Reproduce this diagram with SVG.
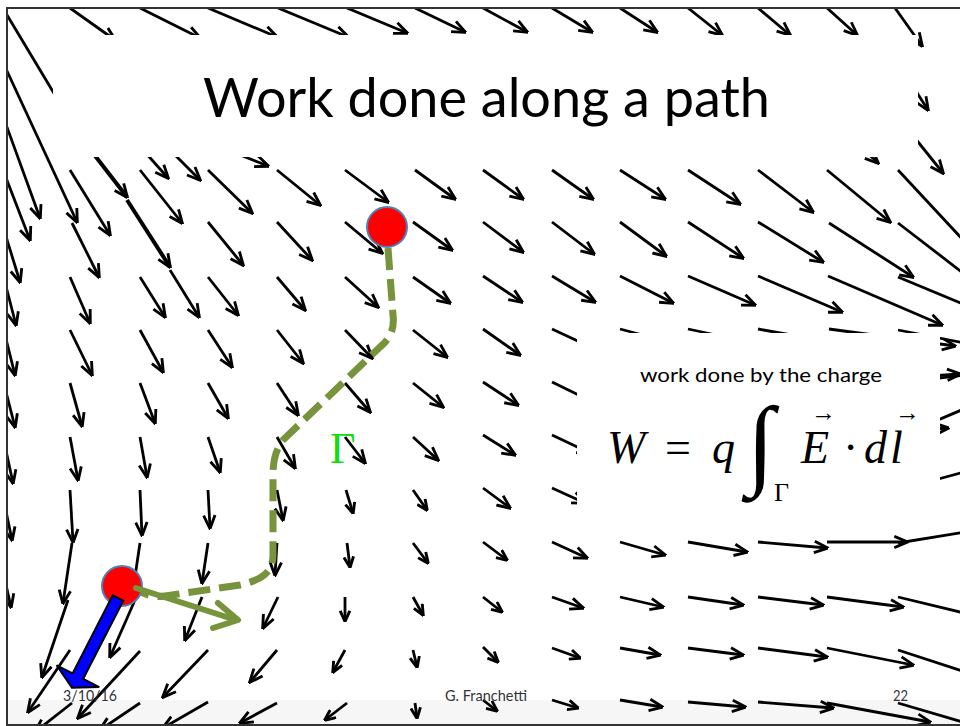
<svg xmlns="http://www.w3.org/2000/svg" width="960" height="726" viewBox="0 0 960 726">
<defs>
<marker id="h" viewBox="0 0 10 10" refX="9" refY="5" markerWidth="15" markerHeight="15" markerUnits="userSpaceOnUse" orient="auto"><path d="M0.5 1.2L9.5 5L0.5 8.8" fill="none" stroke="#000" stroke-width="1.9"/></marker>
<marker id="hs" viewBox="0 0 10 10" refX="9" refY="5" markerWidth="12" markerHeight="12" markerUnits="userSpaceOnUse" orient="auto"><path d="M0.5 1L9.5 5L0.5 9" fill="none" stroke="#000" stroke-width="2.4"/></marker>
<clipPath id="frame"><rect x="7" y="8" width="953" height="717"/></clipPath>
<style>
#field path{fill:none;stroke:#000;stroke-width:2.8;marker-end:url(#h)}
#field path.s{marker-end:url(#hs)}
#field path.t{stroke-width:4}
.ui{font-family:Lato,"Open Sans","Liberation Sans",sans-serif;fill:#000}
.m{font-family:"Liberation Serif","DejaVu Serif",serif;fill:#000}
.i{font-style:italic}
.g{font-family:"Liberation Serif","DejaVu Serif",serif;fill:#11dd11}
.foot{font-family:Lato,"Open Sans","Liberation Sans",sans-serif;font-size:15px;fill:#333}
</style>
</defs>
<rect width="960" height="726" fill="#fff"/>
<rect x="7" y="700" width="953" height="25" fill="#f6f6f6"/>
<g id="field" clip-path="url(#frame)">
<path d="M-2 0L70 120"/><path d="M-12 30L77 222"/><path d="M-12 75L40 218"/><path d="M-12 131L30 240"/><path d="M-12 178L20 282"/><path d="M-12 217L16 325"/><path d="M-12 267L15 375"/><path d="M-12 322L15 427"/><path d="M-12 368L13 483"/><path d="M-12 425L12 540"/><path d="M-12 505L11 607"/>
<path d="M70 8L115 40"/><path d="M140 8L200 38"/><path d="M208 8L277 37"/><path d="M278 8L348 37"/><path d="M347 8L407 33"/><path d="M415 8L465 32"/><path d="M483 8L527 32"/><path d="M552 8L592 32"/><path d="M620 8L657 32"/><path d="M688 8L722 35"/><path d="M758 8L790 35"/><path d="M827 8L857 35"/><path d="M895 8L922 46"/>
<path d="M898 63L928 110"/>
<path d="M829 117L878 163"/><path d="M898 117L943 173"/><path class="t" d="M65 117L127 197"/><path d="M128 133L168 178"/><path d="M155 135L200 180"/><path d="M225 149L268 166"/>
<path d="M70 170L110 235"/><path d="M140 170L182 223"/><path d="M208 170L252 213"/><path d="M277 170L320 205"/><path d="M345 170L388 202"/><path d="M415 170L455 199"/><path d="M483 170L523 199"/><path d="M552 170L593 199"/><path d="M620 170L665 199"/><path d="M688 170L740 204"/><path d="M758 170L813 212"/><path d="M827 170L890 222"/><path d="M898 170L978 256"/>
<path d="M72 223L99 277"/><path class="t" d="M127 200L170 267"/><path d="M170 270L199 317"/><path d="M208 222L243 265"/><path d="M277 222L312 260"/><path d="M345 222L382 253"/><path d="M413 222L452 250"/><path d="M483 222L523 252"/><path d="M552 222L594 254"/><path d="M620 222L666 256"/><path d="M688 222L743 258"/><path d="M758 222L823 262"/><path d="M829 223L913 277"/><path d="M898 223L993 296"/>
<path d="M70 277L90 323"/><path d="M140 277L165 317"/><path d="M208 277L238 315"/><path d="M277 277L305 310"/><path d="M345 277L378 307"/><path d="M413 277L450 303"/><path d="M483 276L522 302"/><path d="M552 276L595 302"/><path d="M620 276L673 303"/><path d="M688 276L755 305"/><path d="M758 276L842 312"/><path d="M828 276L942 325"/><path d="M898 277L1018 327"/>
<path d="M70 330L92 375"/><path d="M140 330L163 372"/><path d="M208 330L232 367"/><path d="M277 330L303 363"/><path d="M345 330L372 358"/><path d="M413 330L447 357"/><path d="M483 329L520 355"/><path d="M552 329L597 350"/><path d="M620 329L680 345"/><path d="M688 329L763 345"/><path d="M758 329L848 345"/><path d="M829 329L955 346"/><path d="M898 330L990 348"/>
<path d="M70 383L82 426"/><path d="M140 383L155 423"/><path d="M208 383L228 418"/><path d="M277 383L298 415"/><path d="M345 383L370 412"/><path d="M413 383L443 407"/><path d="M483 382L518 405"/><path d="M552 382L597 404"/><path d="M829 383L960 374"/><path d="M898 383L990 372"/>
<path d="M70 437L78 480"/><path d="M140 437L147 477"/><path d="M208 437L220 472"/><path d="M277 437L295 468"/><path d="M345 437L365 463"/><path d="M413 437L438 460"/><path d="M483 435L515 455"/><path d="M552 435L590 453"/><path d="M829 437L948 428"/><path d="M898 437L985 400"/>
<path d="M70 490L73 542"/><path d="M140 490L142 535"/><path d="M208 490L210 528"/><path d="M277 490L283 520"/><path class="s" d="M346 490L353 513"/><path class="s" d="M413 490L427 510"/><path d="M483 488L510 508"/><path d="M552 488L585 503"/><path d="M829 490L935 482"/><path d="M898 490L990 465"/>
<path d="M72 543L63 603"/><path d="M140 543L133 590"/><path d="M208 543L202 583"/><path d="M277 543L275 575"/><path class="s" d="M347 543L350 567"/><path class="s" d="M413 543L428 563"/><path class="s" d="M483 542L507 560"/><path d="M552 542L587 558"/><path d="M620 542L665 555"/><path d="M688 542L747 552"/><path d="M758 542L827 548"/><path d="M827 542L907 542"/><path d="M898 543L990 528"/>
<path d="M68 600L42 677"/><path d="M135 600L110 657"/><path d="M202 597L185 640"/><path d="M278 597L263 628"/><path class="s" d="M345 597L345 621"/><path class="s" d="M413 597L423 615"/><path class="s" d="M483 597L502 612"/><path d="M552 597L583 608"/><path d="M620 597L663 607"/><path d="M688 597L743 605"/><path d="M758 597L823 605"/><path d="M827 597L903 607"/><path d="M898 597L985 618"/>
<path d="M70 650L28 712"/><path d="M140 651L78 718"/><path d="M208 650L163 697"/><path d="M277 650L250 682"/><path class="s" d="M345 650L333 672"/><path class="s" d="M413 650L417 667"/><path class="s" d="M483 647L498 662"/><path class="s" d="M552 648L580 658"/><path d="M620 648L660 655"/><path d="M688 648L743 655"/><path d="M758 648L827 657"/><path d="M827 648L913 665"/><path d="M898 650L990 680"/>
<path d="M72 703L35 732"/><path d="M140 703L100 730"/><path d="M208 702L163 728"/><path d="M277 703L240 723"/><path class="s" d="M347 703L325 720"/><path class="s" d="M415 703L417 718"/><path class="s" d="M483 700L497 711"/><path class="s" d="M552 700L578 708"/><path d="M620 700L662 707"/><path d="M688 702L745 707"/><path d="M758 702L833 708"/><path d="M827 703L930 722"/><path d="M898 703L990 730"/>
</g>
<g id="title">
<rect x="53" y="35" width="865" height="122" fill="#fff"/>
<text class="ui" x="203" y="117" font-size="54" textLength="567" lengthAdjust="spacingAndGlyphs">Work done along a path</text>
</g>
<g id="formula">
<rect x="577" y="333" width="363" height="190" fill="#fff"/>
<text class="ui" x="640" y="382" font-size="19" textLength="242" lengthAdjust="spacingAndGlyphs">work done by the charge</text>
<text class="m i" x="607" y="463" font-size="46">W</text>
<text class="m" x="665" y="463" font-size="46">=</text>
<text class="m i" x="712" y="463" font-size="46">q</text>
<text class="m" x="747" y="476" font-size="100">∫</text>
<text class="m" x="774" y="501" font-size="26">Γ</text>
<text class="m i" x="801" y="463" font-size="46">E</text>
<text class="m" x="811" y="421" font-size="25">→</text>
<text class="m" x="843" y="463" font-size="46">·</text>
<text class="m i" x="864" y="463" font-size="46">d</text>
<text class="m i" x="890" y="463" font-size="46">l</text>
<text class="m" x="895" y="421" font-size="25">→</text>
</g>
<g id="path">
<path d="M388 248L393 315C395 332 388 340 380 347L283 440C277 448 273 458 273 475L273 555C273 572 262 580 240 585L165 596C152 598 143 594 135 588" fill="none" stroke="#77933c" stroke-width="7" stroke-dasharray="22 9"/>
<text class="g" x="330" y="463" font-size="44">Γ</text>
</g>
<g id="end">
<circle cx="387" cy="227" r="20" fill="#ff0000" stroke="#4f81bd" stroke-width="2"/>
</g>
<g id="start">
<circle cx="122" cy="586" r="20" fill="#ff0000" stroke="#4f81bd" stroke-width="2"/>
<g fill="none" stroke="#77933c" stroke-width="6" stroke-linecap="round" stroke-linejoin="round">
<path d="M136 588L236 620"/><path d="M218 603L238 620L213 628"/>
</g>
<polygon points="112.7,595.3 123.3,600.7 83.2,678.9 99.2,687.1 72,687.8 56.6,665.3 72.6,673.5" fill="#0000ff" stroke="#000" stroke-width="2" stroke-linejoin="miter"/>
</g>
<g id="footer">
<text class="foot" x="63" y="701" textLength="54" lengthAdjust="spacingAndGlyphs">3/10/16</text>
<text class="foot" x="445" y="701" textLength="82" lengthAdjust="spacingAndGlyphs">G. Franchetti</text>
<text class="foot" x="893" y="701" textLength="15" lengthAdjust="spacingAndGlyphs">22</text>
</g>
<rect x="7" y="8" width="960" height="717" fill="none" stroke="#333" stroke-width="2"/>
</svg>
